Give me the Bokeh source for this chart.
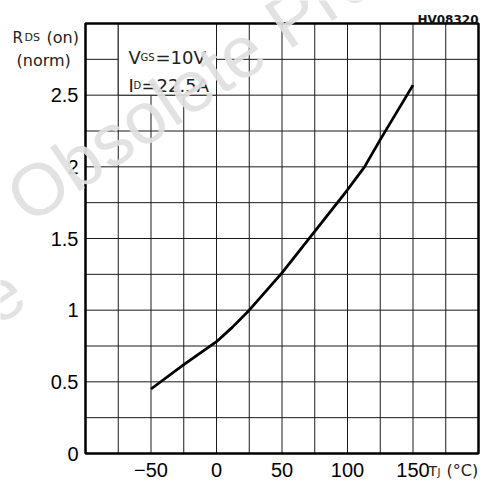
from bokeh.plotting import figure
from bokeh.models import FixedTicker, Label, NumeralTickFormatter
from bokeh.embed import file_html
from bokeh.resources import INLINE

# Normalized on-resistance vs junction temperature
temps = [-50, -25, 0, 12, 25, 50, 75, 100, 113, 125, 150]
rds_norm = [0.45, 0.62, 0.78, 0.88, 1.0, 1.26, 1.55, 1.84, 2.0, 2.19, 2.57]

x_ticks = [-50, 0, 50, 100, 150]
y_ticks = [0, 0.5, 1, 1.5, 2, 2.5]
x_grid = [-75, -50, -25, 0, 25, 50, 75, 100, 125, 150, 175]
y_grid = [0.25, 0.5, 0.75, 1.0, 1.25, 1.5, 1.75, 2.0, 2.25, 2.5, 2.75]

X_MIN, X_MAX = -100, 200
Y_MIN, Y_MAX = 0, 3

# canvas size and where the chart box sits on it (pixels)
W, H = 496, 485
BL, BR, BT, BB = 85, 478, 23, 453

# the plotting frame fills the whole canvas; ranges are widened so the
# chart box lands at BL..BR / BT..BB and the margins hold the labels
ux = (X_MAX - X_MIN) / (BR - BL)
uy = (Y_MAX - Y_MIN) / (BB - BT)
x_range = (X_MIN - BL * ux, X_MAX + (W - BR) * ux)
y_range = (Y_MIN - (H - BB) * uy, Y_MAX + BT * uy)

p = figure(width=W, height=H, x_range=x_range, y_range=y_range,
           min_border=0, min_border_left=0, min_border_right=0,
           min_border_top=0, min_border_bottom=0,
           output_backend="svg", toolbar_location=None)
p.background_fill_color = "white"
p.border_fill_color = "white"
p.outline_line_color = None
p.xgrid.grid_line_color = None
p.ygrid.grid_line_color = None

for ax in (p.xaxis, p.yaxis):
    ax.axis_line_color = None
    ax.major_tick_line_color = None
    ax.minor_tick_line_color = None
    ax.major_tick_out = 0
    ax.major_tick_in = 0
    ax.major_label_text_font = "Liberation Sans"
    ax.major_label_text_font_size = "20px"
    ax.major_label_text_color = "black"

p.xaxis.fixed_location = Y_MIN
p.xaxis.ticker = FixedTicker(ticks=x_ticks)
p.xaxis.major_label_overrides = {-50: "\u221250"}
p.xaxis.major_label_standoff = 9

p.yaxis.fixed_location = X_MIN
p.yaxis.ticker = FixedTicker(ticks=y_ticks)
p.yaxis.formatter = NumeralTickFormatter(format="0.[0]")
p.yaxis.major_label_standoff = 7

GRID = "#1a1a1a"
# grid lines every 25 °C and every 0.25
p.segment(x0=x_grid, y0=[Y_MIN] * len(x_grid), x1=x_grid, y1=[Y_MAX] * len(x_grid),
          line_color=GRID, line_width=1)
p.segment(x0=[X_MIN] * len(y_grid), y0=y_grid, x1=[X_MAX] * len(y_grid), y1=y_grid,
          line_color=GRID, line_width=1)

# white panel behind the test-condition note
p.quad(left=[-75], right=[0], bottom=[2.5], top=[3.0],
       fill_color="white", line_color=GRID, line_width=1)

p.line(temps, rds_norm, line_color="black", line_width=2.8)

# chart border
p.quad(left=[X_MIN], right=[X_MAX], bottom=[Y_MIN], top=[Y_MAX],
       fill_color=None, line_color="black", line_width=2.5)


def at(px, py):
    """Canvas pixel -> data coordinates (used for placing annotations)."""
    return x_range[0] + px * ux, y_range[1] - py * uy


def label(text, px, py, size, align="left", bold=False, font="DejaVu Sans",
          color="#222222", angle=0, alpha=1.0):
    x, y = at(px, py)
    p.add_layout(Label(x=x, y=y, text=text, text_font=font,
                       text_font_size=f"{size}px", text_align=align,
                       text_baseline="alphabetic", text_color=color,
                       text_font_style="bold" if bold else "normal",
                       angle=angle, angle_units="deg", text_alpha=alpha))


# axis titles
label("R", 12, 37, 15)
label("DS", 24, 37, 11)
label("(on)", 46, 37, 16)
label("(norm)", 16, 60, 16)
label("T", 428, 470, 14)
label("J", 437, 472, 10)
label("(\u00b0C)", 446, 470, 16)

# test conditions
label("V", 128, 57, 18)
label("GS", 140, 57, 10)
label("=10V", 155, 57, 18)
label("I", 128, 85, 18)
label("D", 133, 85, 10)
label("=22.5A", 141, 85, 18)

label("HV08320", 478, 19, 12, align="right", bold=True, color="#111111")

# watermark
WM = "#e0e0e0"
label("Obsolete Product(s)", 14, 204, 73, font="Liberation Sans", color=WM,
      angle=34, alpha=0.92)
label("Obsolete", 16, 283, 73, align="right", font="Liberation Sans", color=WM,
      angle=34, alpha=0.92)

open("out.html", "w").write(file_html(p, INLINE))
